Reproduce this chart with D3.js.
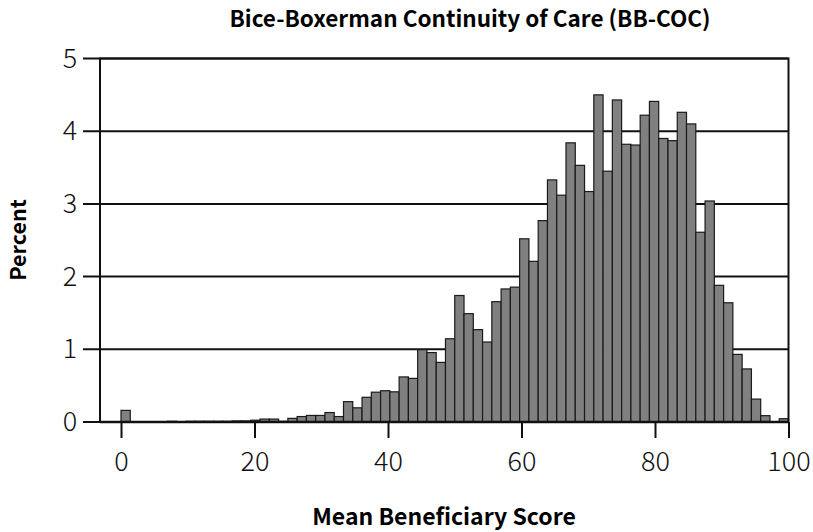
<!DOCTYPE html>
<html><head><meta charset="utf-8">
<script src="https://cdn.jsdelivr.net/npm/d3@7"></script>
<style>html,body{margin:0;padding:0;background:#fff;}svg{display:block;}</style>
</head><body>
<svg id="c" width="813" height="532"></svg>
<script>
const title = "Bice-Boxerman Continuity of Care (BB-COC)";
const xTitle = "Mean Beneficiary Score";
const yTitle = "Percent";
const binCount = 72;
const xDomain = [0, 100];
const yDomain = [0, 5];
const xTicks = [0, 20, 40, 60, 80, 100];
const yTicks = [0, 1, 2, 3, 4, 5];
const percents = [
  0.16, 0, 0, 0, 0, 0.01, 0, 0.01, 0.01, 0.01,
  0.01, 0.01, 0.015, 0.015, 0.025, 0.04, 0.04, 0.01, 0.05, 0.075,
  0.09, 0.09, 0.13, 0.075, 0.28, 0.195, 0.34, 0.41, 0.43, 0.415,
  0.62, 0.60, 0.995, 0.955, 0.82, 1.145, 1.74, 1.49, 1.27, 1.10,
  1.655, 1.83, 1.855, 2.52, 2.21, 2.77, 3.33, 3.12, 3.84, 3.53,
  3.17, 4.50, 3.45, 4.43, 3.82, 3.81, 4.22, 4.41, 3.90, 3.87,
  4.26, 4.10, 2.61, 3.04, 1.88, 1.64, 0.93, 0.73, 0.315, 0.087,
  0.005, 0.045
];

const svg = d3.select("#c");
const L = 100, R = 788.5, T = 58.5, B = 422;
const x0 = 121;
const x = d3.scaleLinear().domain(xDomain).range([x0, R]);
const y = d3.scaleLinear().domain(yDomain).range([B, T]);
const bw = (xDomain[1] - xDomain[0]) / binCount;
const bins = percents.map((v, i) => ({x0: i * bw, x1: (i + 1) * bw, v}));

const font = "'Noto Sans CJK KR','Noto Sans',sans-serif";

// gridlines with outer tick
svg.append("g").selectAll("line").data(yTicks.filter(d => d > 0)).join("line")
  .attr("x1", 83).attr("x2", R).attr("y1", d => y(d)).attr("y2", d => y(d))
  .attr("stroke", "#111").attr("stroke-width", 2);
svg.append("line").attr("x1", 83).attr("x2", L).attr("y1", B).attr("y2", B)
  .attr("stroke", "#111").attr("stroke-width", 2);

// bars
svg.append("g").selectAll("rect").data(bins).join("rect")
  .attr("x", d => x(d.x0))
  .attr("width", d => x(d.x1) - x(d.x0))
  .attr("y", d => y(d.v))
  .attr("height", d => B - y(d.v))
  .attr("fill", "#808080")
  .attr("stroke", "#1a1a1a")
  .attr("stroke-width", 1.2);

// frame: left, top, right, bottom
svg.append("path")
  .attr("d", `M${L},${B}V${T}H${R}V${B}`)
  .attr("fill", "none").attr("stroke", "#111").attr("stroke-width", 2);
svg.append("line").attr("x1", L).attr("x2", R).attr("y1", B).attr("y2", B)
  .attr("stroke", "#111").attr("stroke-width", 2.5);

// x axis ticks
const xa = svg.append("g").attr("transform", `translate(0,${B})`)
  .call(d3.axisBottom(x).tickValues(xTicks).tickSize(16).tickSizeOuter(0).tickPadding(14).tickFormat(d3.format("d")));
xa.select(".domain").remove();
xa.selectAll("line").attr("stroke", "#111").attr("stroke-width", 2);
xa.selectAll("text").attr("font-family", font).attr("font-size", 27).attr("fill", "#111").attr("font-weight", 300);

// y labels
const ya = svg.append("g").attr("transform", `translate(${L},0)`)
  .call(d3.axisLeft(y).tickValues(yTicks).tickSize(0).tickPadding(30).tickFormat(d3.format("d")));
ya.select(".domain").remove();
ya.selectAll("text").attr("font-family", font).attr("font-size", 27).attr("fill", "#111").attr("font-weight", 300)
  .attr("text-anchor", "middle").attr("dx", "0");

// titles
svg.append("text").attr("x", 470).attr("y", 27).attr("text-anchor", "middle")
  .attr("font-family", font).attr("font-weight", "bold").attr("font-size", 22.5).text(title);
svg.append("text").attr("x", 444).attr("y", 525).attr("text-anchor", "middle")
  .attr("font-family", font).attr("font-weight", "bold").attr("font-size", 23).text(xTitle);
svg.append("text").attr("transform", "translate(26,240) rotate(-90)").attr("text-anchor", "middle")
  .attr("font-family", font).attr("font-weight", "bold").attr("font-size", 21.5).text(yTitle);
</script>
</body></html>
